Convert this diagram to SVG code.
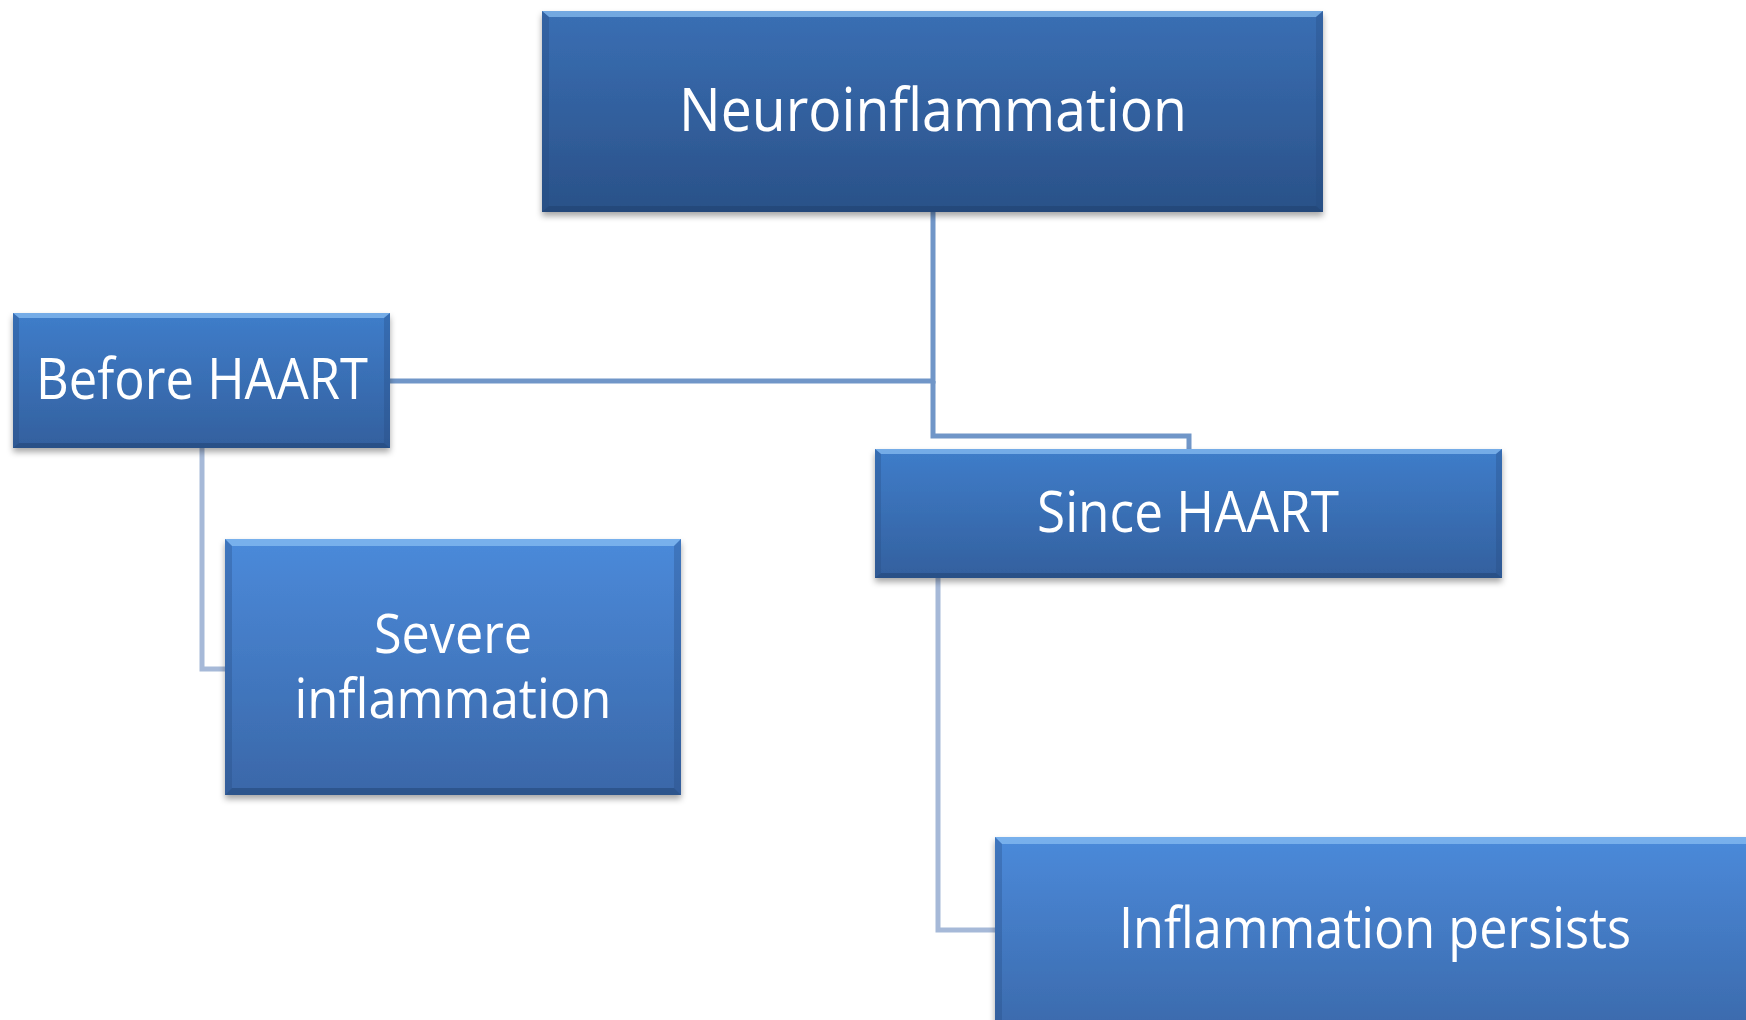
<svg xmlns="http://www.w3.org/2000/svg" width="1746" height="1020" viewBox="0 0 1746 1020">
<defs>
<linearGradient id="gDark" x1="0" y1="0" x2="0" y2="1"><stop offset="0" stop-color="#3a6fb4"/><stop offset="1" stop-color="#2a5188"/></linearGradient>
<linearGradient id="gMid" x1="0" y1="0" x2="0" y2="1"><stop offset="0" stop-color="#3f7dca"/><stop offset="1" stop-color="#33609e"/></linearGradient>
<linearGradient id="gLight" x1="0" y1="0" x2="0" y2="1"><stop offset="0" stop-color="#4b8ada"/><stop offset="1" stop-color="#3a67a8"/></linearGradient>
<filter id="sh" x="-5%" y="-5%" width="110%" height="120%"><feDropShadow dx="0" dy="4" stdDeviation="3" flood-color="#000" flood-opacity="0.35"/></filter>
</defs>
<style>
.lbl{font-family:"Open Sans","Noto Sans","Liberation Sans",sans-serif;fill:#fff;text-anchor:middle}
.top{fill:#8cc0f4;opacity:0.7}
.bot{fill:#1d3d6a;opacity:0.45}
.side{fill:#23487d;opacity:0.3}
.c1{fill:none;stroke:#7096c8;stroke-width:5}
.c2{fill:none;stroke:#a6b9d8;stroke-width:5}
</style>
<rect width="1746" height="1020" fill="#fff"/>
<g id="connectors">
<polyline class="c1" points="933,212 933,381 390,381"/>
<polyline class="c1" points="933,381 933,436 1189,436 1189,449"/>
<polyline class="c2" points="202,448 202,669 225,669"/>
<polyline class="c2" points="938,578 938,930 995,930"/>
</g>
<g id="n-neuro">
<rect x="542" y="11" width="781" height="201" fill="url(#gDark)" filter="url(#sh)"/>
<polygon class="top" points="542,11 1323,11 1316,17 549,17"/>
<polygon class="side" points="542,11 549,17 549,206 542,212"/>
<polygon class="side" points="1323,11 1316,17 1316,206 1323,212"/>
<polygon class="bot" points="542,212 549,206 1316,206 1323,212"/>
<text class="lbl" x="933" y="131" font-size="60" textLength="508" lengthAdjust="spacingAndGlyphs">Neuroinflammation</text>
</g>
<g id="n-before">
<rect x="13" y="313" width="377" height="135" fill="url(#gMid)" filter="url(#sh)"/>
<polygon class="top" points="13,313 390,313 384,318 19,318"/>
<polygon class="side" points="13,313 19,318 19,443 13,448"/>
<polygon class="side" points="390,313 384,318 384,443 390,448"/>
<polygon class="bot" points="13,448 19,443 384,443 390,448"/>
<text class="lbl" x="202" y="399" font-size="56" textLength="332" lengthAdjust="spacingAndGlyphs">Before HAART</text>
</g>
<g id="n-since">
<rect x="875" y="449" width="627" height="129" fill="url(#gMid)" filter="url(#sh)"/>
<polygon class="top" points="875,449 1502,449 1496,454 881,454"/>
<polygon class="side" points="875,449 881,454 881,573 875,578"/>
<polygon class="side" points="1502,449 1496,454 1496,573 1502,578"/>
<polygon class="bot" points="875,578 881,573 1496,573 1502,578"/>
<text class="lbl" x="1188" y="532" font-size="56" textLength="302" lengthAdjust="spacingAndGlyphs">Since HAART</text>
</g>
<g id="n-severe">
<rect x="225" y="539" width="456" height="256" fill="url(#gLight)" filter="url(#sh)"/>
<polygon class="top" points="225,539 681,539 674,546 232,546"/>
<polygon class="side" points="225,539 232,546 232,788 225,795"/>
<polygon class="side" points="681,539 674,546 674,788 681,795"/>
<polygon class="bot" points="225,795 232,788 674,788 681,795"/>
<text class="lbl" x="453" y="653" font-size="54" textLength="158" lengthAdjust="spacingAndGlyphs">Severe</text>
<text class="lbl" x="453" y="718" font-size="54" textLength="317" lengthAdjust="spacingAndGlyphs">inflammation</text>
</g>
<g id="n-persists">
<rect x="995" y="837" width="780" height="210" fill="url(#gLight)" filter="url(#sh)"/>
<polygon class="top" points="995,837 1775,837 1768,844 1002,844"/>
<polygon class="side" points="995,837 1002,844 1002,1040 995,1048"/>
<text class="lbl" x="1375" y="948" font-size="56" textLength="512" lengthAdjust="spacingAndGlyphs">Inflammation persists</text>
</g>
</svg>
